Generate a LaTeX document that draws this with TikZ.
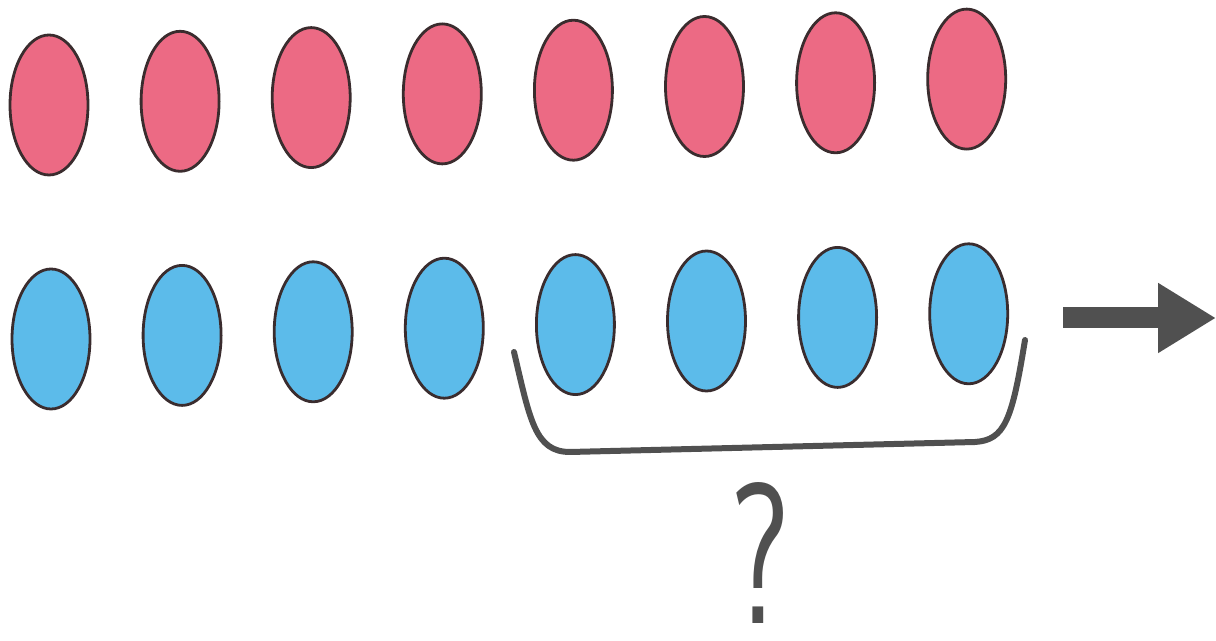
\documentclass[tikz,border=0pt]{standalone}
\usepackage{tikz}
\usetikzlibrary{arrows.meta,calc,shapes.geometric}
\definecolor{rim}{HTML}{3A2C2E}
\definecolor{pink}{HTML}{EC6A84}
\definecolor{sky}{HTML}{5CBBEA}
\definecolor{ink}{HTML}{505050}
\tikzset{coin/.style={ellipse,draw=rim,line width=1.4pt,minimum width=39pt,minimum height=70pt,inner sep=0pt},redcoin/.style={coin,fill=pink},bluecoin/.style={coin,fill=sky},push/.style={-{Triangle[length=29pt,width=33pt]},draw=ink,line width=10.5pt},brace/.style={draw=ink,line width=3pt,line cap=round}}
\begin{document}
\begin{tikzpicture}[x=0.5pt,y=-0.5pt]
\useasboundingbox (0,0) rectangle (1216,641);
\foreach \i in {1,...,8}{
  \node[redcoin] (r\i) at ({49+131.1*(\i-1)},{105-3.7*(\i-1)}) {};
  \node[bluecoin] (b\i) at ({51+131.1*(\i-1)},{339-3.6*(\i-1)}) {};
}
\coordinate (a0) at (1063,318);
\coordinate (a1) at (1216,318);
\draw[push] (a0)--(a1);
\coordinate (bl) at (514,352);
\coordinate (br) at (1025,340);
\draw[brace] (bl) .. controls (530,420) and (535,452) .. (570,452) -- (975,442) .. controls (1005,440) and (1012,420) .. (br);
\node[text=ink,font=\sffamily,inner sep=0pt,xscale=6.5,yscale=10] (q) at (760,553) {?};
\end{tikzpicture}
\end{document}
